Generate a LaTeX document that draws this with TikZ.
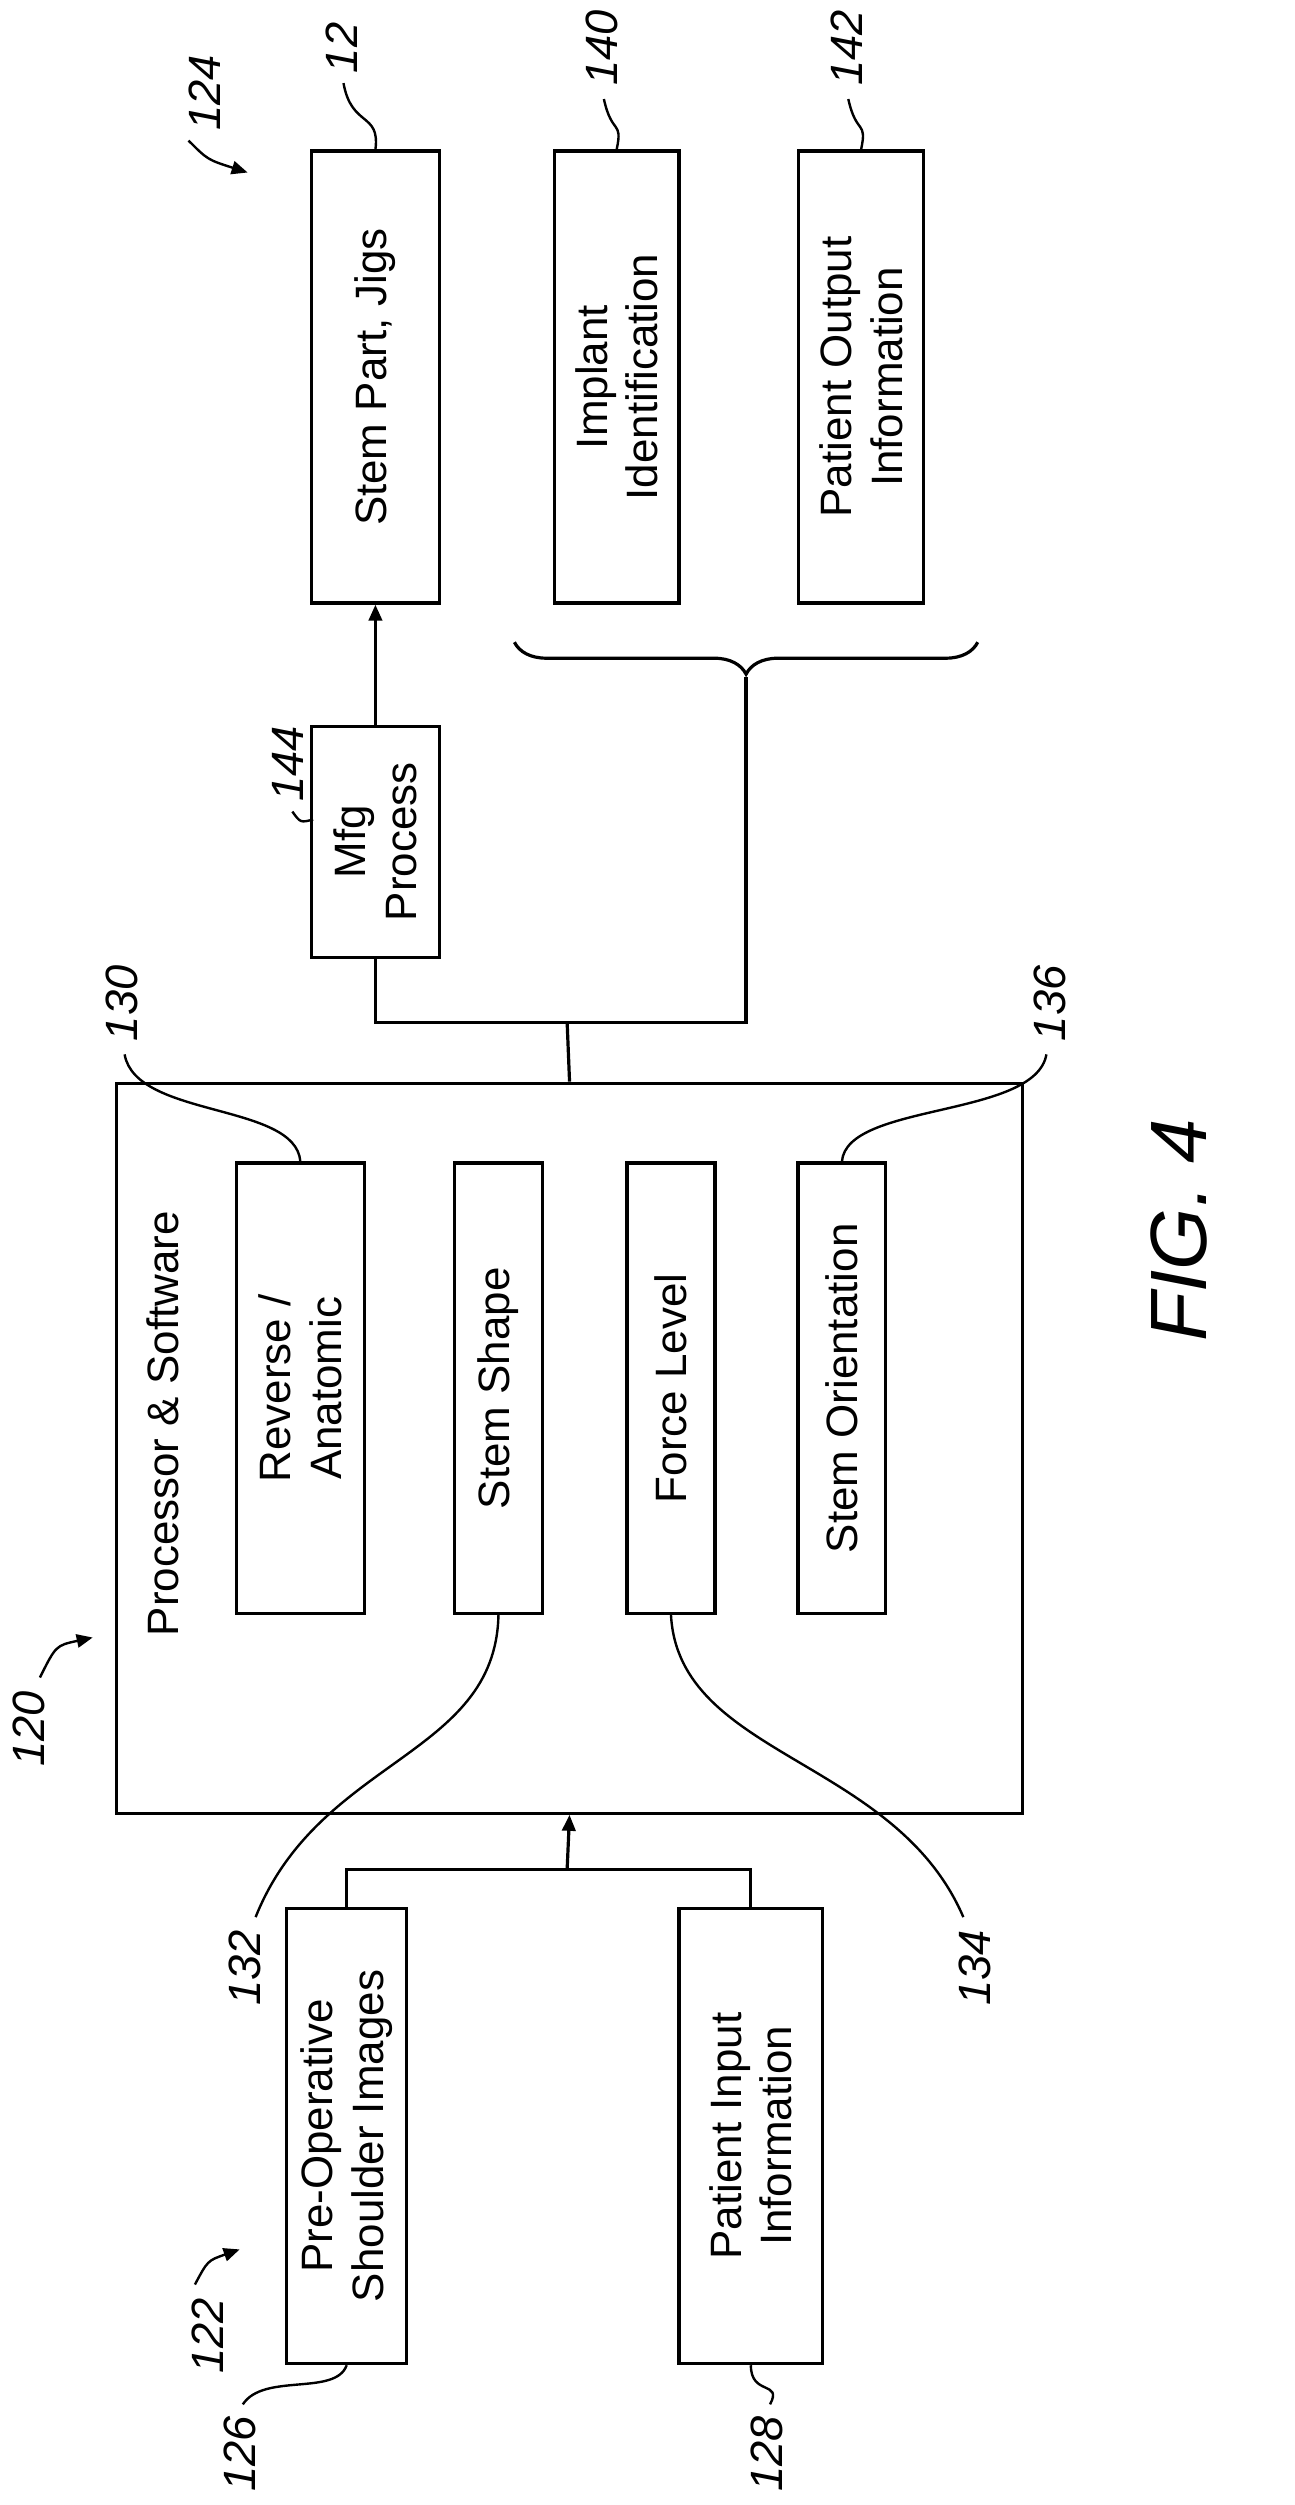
\documentclass[tikz,border=0pt]{standalone}
\usepackage{fontspec}
\setmainfont{Liberation Sans}
\usetikzlibrary{calc,positioning,decorations.pathreplacing,arrows.meta}
\newcommand\pu{0.6pt}
\tikzset{
  box/.style={draw, line width=1.2pt, rotate=90, align=center, inner sep=0pt,
    font=\fontsize{16.5}{19}\selectfont},
  num/.style={rotate=90, font=\itshape\fontsize{17}{20}\selectfont},
  lead/.style={line width=0.9pt},
  conn/.style={line width=1.2pt},
  tip/.style={-{Triangle[length=6pt,width=5pt]}}
}
\begin{document}
\begin{tikzpicture}[x=0.6pt,y=-0.6pt]
  \useasboundingbox (0,0) rectangle (810,1568);
  % output side
  \node [box, minimum width=283*\pu, minimum height=80*\pu] (stem) at (235,236) {Stem Part, Jigs};
  \node [box, minimum width=283*\pu, minimum height=78*\pu] (impl) at (386,236) {Implant\\Identification};
  \node [box, minimum width=283*\pu, minimum height=78*\pu] (pout) at (539,236) {Patient Output\\Information};
  \node [box, minimum width=145*\pu, minimum height=80*\pu] (mfg) at (235,527) {Mfg\\Process};
  \draw [conn, tip] (mfg.east) -- (stem.west);
  \draw [conn, decorate, decoration={brace, amplitude=12pt, mirror}] (322,402) -- (612,402) coordinate[midway] (brc);
  \coordinate (btip) at (467,424);
  \coordinate (jn) at (355,640);
  \draw [conn] (mfg.west) |- (jn) -| (btip);
  % processor
  \node [draw, line width=1.2pt, minimum width=567*\pu, minimum height=457*\pu] (proc) at (356.5,906.5) {};
  \draw [conn] (jn) -- (proc.north);
  \node [rotate=90, anchor=west, font=\fontsize{16.5}{19}\selectfont] (ptxt) at (102,1030) {Processor \& Software};
  \node [box, minimum width=282*\pu, minimum height=80*\pu] (rev) at (188,869) {Reverse /\\Anatomic};
  \node [box, minimum width=282*\pu, minimum height=55*\pu] (shape) at (312,869) {Stem Shape};
  \node [box, minimum width=282*\pu, minimum height=55*\pu] (force) at (420,869) {Force Level};
  \node [box, minimum width=282*\pu, minimum height=55*\pu] (orient) at (527,869) {Stem Orientation};
  % inputs
  \node [box, minimum width=285*\pu, minimum height=75*\pu] (preop) at (217,1337) {Pre-Operative\\Shoulder Images};
  \node [box, minimum width=285*\pu, minimum height=90*\pu] (pin) at (470,1337) {Patient Input\\Information};
  \coordinate (ij) at (355,1170);
  \draw [conn] (preop.east) |- (ij) -| (pin.east);
  \draw [conn, tip] (ij) -- (proc.south);
  % reference numerals
  \node [num] (n124) at (128,58) {124};
  \draw [lead, tip] (118,88) .. controls (130,100) .. (155,108);
  \node [num] (n12) at (214,30) {12};
  \draw [lead] (215,52) .. controls (220,80) and (238,70) .. (stem.east);
  \node [num] (n140) at (377,30) {140};
  \draw [lead] (378,62) .. controls (383,85) and (390,75) .. (impl.east);
  \node [num] (n142) at (530,30) {142};
  \draw [lead] (531,62) .. controls (536,85) and (543,75) .. (pout.east);
  \node [num] (n144) at (180,478) {144};
  \draw [lead] (183,508) .. controls (188,515) .. (196,513);
  \node [num] (n130) at (76,628) {130};
  \draw [lead] (78,660) .. controls (85,700) and (185,690) .. (rev.east);
  \node [num] (n136) at (657,628) {136};
  \draw [lead] (655,660) .. controls (648,700) and (530,690) .. (orient.east);
  \node [num] (n120) at (18,1082) {120};
  \draw [lead, tip] (25,1050) .. controls (35,1030) .. (58,1025);
  \node [num] (n122) at (130,1462) {122};
  \draw [lead, tip] (122,1430) .. controls (130,1415) .. (150,1408);
  \node [num] (n126) at (150,1536) {126};
  \draw [lead] (152,1505) .. controls (165,1485) and (210,1500) .. (preop.west);
  \node [num] (n128) at (480,1536) {128};
  \draw [lead] (482,1505) .. controls (490,1490) and (470,1500) .. (pin.west);
  \node [num] (n132) at (153,1232) {132};
  \draw [lead] (160,1200) .. controls (200,1100) and (310,1100) .. (shape.west);
  \node [num] (n134) at (610,1232) {134};
  \draw [lead] (603,1200) .. controls (560,1100) and (425,1100) .. (force.west);
  \node [rotate=90, font=\itshape\fontsize{30}{34}\selectfont] (fig) at (738,770) {FIG. 4};
\end{tikzpicture}
\end{document}
